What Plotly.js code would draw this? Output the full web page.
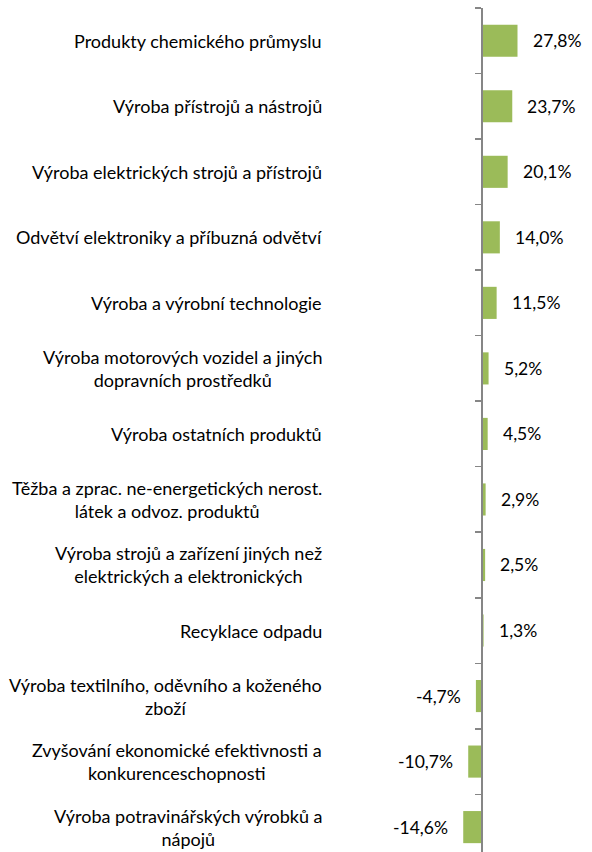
<!DOCTYPE html>
<html>
<head>
<meta charset="utf-8">
<script src="https://cdn.plot.ly/plotly-3.0.1.min.js"></script>
<style>
html,body{margin:0;padding:0;background:#fff;}
#chart{width:592px;height:852px;}
</style>
</head>
<body>
<div id="chart"></div>
<script>
var categories = [
  "Produkty chemického průmyslu",
  "Výroba přístrojů a nástrojů",
  "Výroba elektrických strojů a přístrojů",
  "Odvětví elektroniky a příbuzná odvětví",
  "Výroba a výrobní technologie",
  "Výroba motorových vozidel a jiných<br>dopravních prostředků",
  "Výroba ostatních produktů",
  "Těžba a zprac. ne-energetických nerost.<br>látek a odvoz. produktů",
  "Výroba strojů a zařízení jiných než<br>elektrických a elektronických",
  "Recyklace odpadu",
  "Výroba textilního, oděvního a koženého<br>zboží",
  "Zvyšování ekonomické efektivnosti a<br>konkurenceschopnosti",
  "Výroba potravinářských výrobků a<br>nápojů"
];
var values = [27.8, 23.7, 20.1, 14.0, 11.5, 5.2, 4.5, 2.9, 2.5, 1.3, -4.7, -10.7, -14.6];
var valueLabels = values.map(function(v){ return v.toFixed(1).replace('.', ',') + '%'; });

var xRange = [-376.5, 86];
var axisPos = -xRange[0] / (xRange[1] - xRange[0]);

var trace = {
  type: 'bar',
  orientation: 'h',
  x: values,
  y: categories,
  width: 0.49,
  marker: {color: '#9bbb59'},
  hoverinfo: 'skip'
};

var annotations = [];
categories.forEach(function(c, i){
  annotations.push({
    xref: 'paper', yref: 'y',
    x: 324/592, y: c,
    xanchor: 'right', yanchor: 'middle',
    align: 'center',
    text: c,
    showarrow: false,
    font: {family: 'Lato, sans-serif', size: 18, color: '#000'}
  });
  var v = values[i];
  annotations.push({
    xref: 'x', yref: 'y',
    x: v, y: c,
    xanchor: v >= 0 ? 'left' : 'right', yanchor: 'middle',
    xshift: v >= 0 ? 13 : -13,
    text: valueLabels[i],
    showarrow: false,
    font: {family: 'Lato, sans-serif', size: 17.5, color: '#000'}
  });
});

var layout = {
  width: 592, height: 852,
  margin: {l: 0, r: 0, t: 8, b: 0, pad: 0},
  paper_bgcolor: '#fff', plot_bgcolor: '#fff',
  showlegend: false,
  xaxis: {range: xRange, visible: false, zeroline: false, showgrid: false, fixedrange: true},
  yaxis: {
    type: 'category',
    range: [12.38, -0.5],
    anchor: 'free', position: axisPos,
    showline: true, linecolor: '#868686', linewidth: 2,
    ticks: 'outside', tickson: 'boundaries', ticklen: 6, tickwidth: 1.5, tickcolor: '#868686',
    showticklabels: false, showgrid: false, zeroline: false, fixedrange: true
  },
  annotations: annotations
};

Plotly.newPlot('chart', [trace], layout, {displayModeBar: false, staticPlot: true});
</script>
</body>
</html>
